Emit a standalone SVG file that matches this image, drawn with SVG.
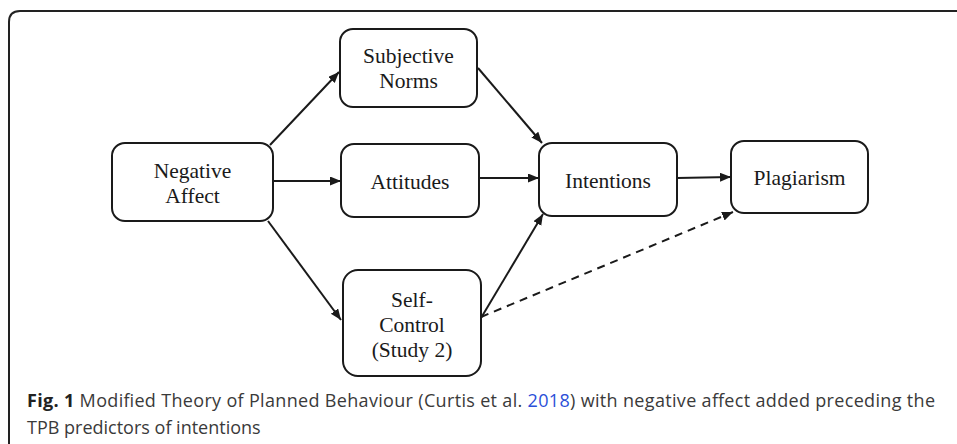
<svg xmlns="http://www.w3.org/2000/svg" width="957" height="444" viewBox="0 0 957 444">
<style>
.box{fill:#fff;stroke:#1a1a1a;stroke-width:2}
.lbl{font-family:"Liberation Serif","Times New Roman",serif;font-size:21.5px;fill:#1a1a1a;text-anchor:middle}
.con{stroke:#1a1a1a;stroke-width:2;fill:none}
.cap{font-family:"Open Sans","Noto Sans",sans-serif;font-size:18px;fill:#3a3a3a}
</style>
<defs>
<marker id="ah" markerUnits="userSpaceOnUse" markerWidth="12" markerHeight="10" refX="11" refY="4.5" orient="auto">
<path d="M0,0 L11,4.5 L0,9 z" fill="#1a1a1a"/>
</marker>
</defs>
<rect x="0" y="0" width="957" height="444" fill="#fff"/>
<path d="M9,450 L9,22 Q9,11 20,11 L960,11" fill="none" stroke="#222" stroke-width="2"/>
<g id="negative-affect">
<rect class="box" x="112" y="143" width="161" height="78" rx="13"/>
<text class="lbl" x="192.5" y="178">Negative</text>
<text class="lbl" x="192.5" y="203">Affect</text>
</g>
<g id="subjective-norms">
<rect class="box" x="340" y="29" width="137" height="78" rx="13"/>
<text class="lbl" x="408.5" y="63">Subjective</text>
<text class="lbl" x="408.5" y="88">Norms</text>
</g>
<g id="attitudes">
<rect class="box" x="341" y="144" width="138" height="73" rx="13"/>
<text class="lbl" x="410" y="189">Attitudes</text>
</g>
<g id="self-control">
<rect class="box" x="343" y="270" width="138" height="106" rx="15"/>
<text class="lbl" x="412" y="307">Self-</text>
<text class="lbl" x="412" y="332">Control</text>
<text class="lbl" x="412" y="357">(Study 2)</text>
</g>
<g id="intentions">
<rect class="box" x="539" y="143" width="138" height="73" rx="13"/>
<text class="lbl" x="608" y="188">Intentions</text>
</g>
<g id="plagiarism">
<rect class="box" x="731" y="141" width="137" height="72" rx="13"/>
<text class="lbl" x="799.5" y="185">Plagiarism</text>
</g>
<g id="connectors">
<path class="con" d="M270,145 L339,72" marker-end="url(#ah)"/>
<path class="con" d="M478,68 L542,143" marker-end="url(#ah)"/>
<path class="con" d="M273,181 L341,181" marker-end="url(#ah)"/>
<path class="con" d="M268,221 L341,320" marker-end="url(#ah)"/>
<path class="con" d="M479,178 L539,178" marker-end="url(#ah)"/>
<path class="con" d="M677,178 L731,177" marker-end="url(#ah)"/>
<path class="con" d="M481,318 L543,214" marker-end="url(#ah)"/>
<path class="con" d="M481,317 L733,212" stroke-dasharray="8,6" marker-end="url(#ah)"/>
</g>
<g id="caption">
<text class="cap" x="27" y="407" textLength="908" lengthAdjust="spacing"><tspan font-weight="bold" fill="#222">Fig. 1</tspan> Modified Theory of Planned Behaviour (Curtis et al. <tspan fill="#2b4fd8">2018</tspan>) with negative affect added preceding the</text>
<text class="cap" x="27" y="434">TPB predictors of intentions</text>
</g>
</svg>
